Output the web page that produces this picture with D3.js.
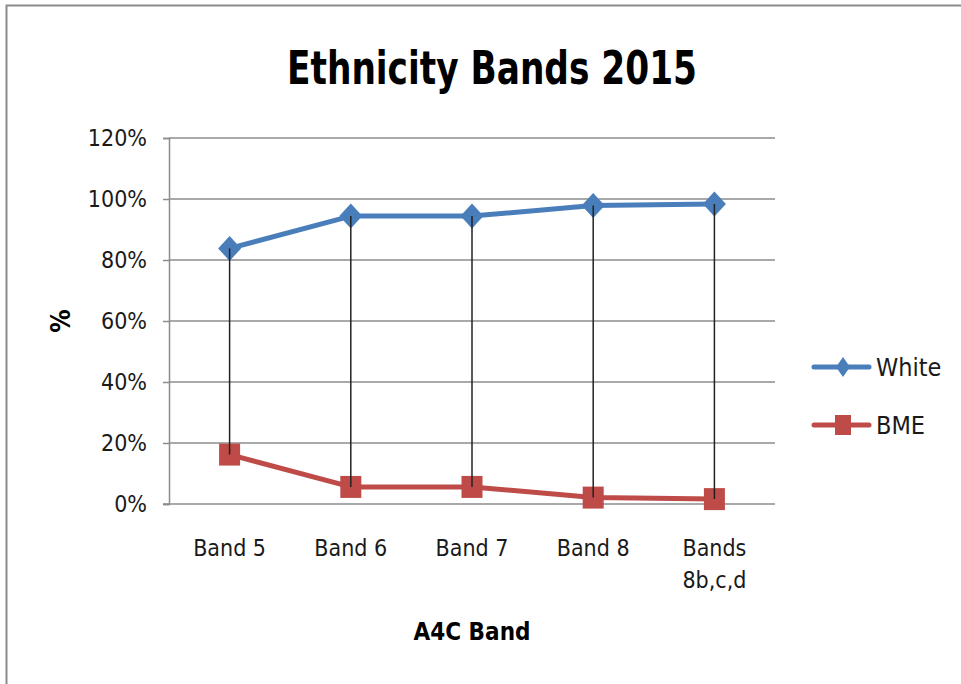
<!DOCTYPE html>
<html>
<head>
<meta charset="utf-8">
<script src="https://cdn.jsdelivr.net/npm/d3@7"></script>
<style>
  body { margin: 0; background: #fff; }
  text { font-family: "Liberation Sans Narrow", "DejaVu Sans Condensed", "Open Sans", sans-serif; }
</style>
</head>
<body>
<script>
// data
const categories = ["Band 5", "Band 6", "Band 7", "Band 8", "Bands 8b,c,d"];
const white = [83.8, 94.4, 94.4, 97.9, 98.4];
const bme = [16.2, 5.6, 5.6, 2.1, 1.6];
const yTicks = [0, 20, 40, 60, 80, 100, 120];

const width = 961, height = 684;
const plot = { left: 169, right: 775, top: 138, bottom: 504 };

const svg = d3.select("body").append("svg")
  .attr("width", width).attr("height", height);

// chart area border
svg.append("rect")
  .attr("x", 6.5).attr("y", 5.5)
  .attr("width", width + 10).attr("height", height + 10)
  .attr("fill", "none").attr("stroke", "#8c8c8c").attr("stroke-width", 2);

const x = d3.scaleBand().domain(categories).range([plot.left, plot.right]);
const y = d3.scaleLinear().domain([0, 120]).range([plot.bottom, plot.top]);
const cx = (d) => x(d) + x.bandwidth() / 2;

// marker shapes (width, height)
function diamond(w, h) {
  const p = d3.path();
  p.moveTo(0, -h / 2); p.lineTo(w / 2, 0); p.lineTo(0, h / 2); p.lineTo(-w / 2, 0); p.closePath();
  return p.toString();
}
function box(w, h) {
  const p = d3.path();
  p.rect(-w / 2, -h / 2, w, h);
  return p.toString();
}

// gridlines
svg.append("g")
  .selectAll("line")
  .data(yTicks.slice(1))
  .enter()
  .append("line")
  .attr("x1", plot.left).attr("x2", plot.right)
  .attr("y1", (d) => y(d)).attr("y2", (d) => y(d))
  .attr("stroke", "#8c8c8c").attr("stroke-width", 1.5);

// y axis
const yAxis = svg.append("g")
  .attr("transform", `translate(${plot.left},0)`)
  .call(d3.axisLeft(y).tickValues(yTicks).tickSize(6).tickPadding(16).tickFormat((d) => d + "%"));
yAxis.select(".domain").attr("stroke", "#8c8c8c").attr("stroke-width", 1.5);
yAxis.selectAll(".tick line").attr("stroke", "#8c8c8c").attr("stroke-width", 1.5);
yAxis.selectAll(".tick text")
  .attr("font-size", 23).attr("fill", "#1a1a1a")
  .style("font-family", '"Liberation Sans Narrow", "DejaVu Sans Condensed", sans-serif');

// x axis line
svg.append("line")
  .attr("x1", plot.left - 6).attr("x2", plot.right)
  .attr("y1", plot.bottom).attr("y2", plot.bottom)
  .attr("stroke", "#8c8c8c").attr("stroke-width", 1.5);

// x labels
const xl = svg.append("g").selectAll("text")
  .data(categories)
  .enter()
  .append("text")
  .attr("x", (d) => cx(d))
  .attr("y", 556)
  .attr("text-anchor", "middle")
  .attr("font-size", 23)
  .attr("fill", "#1a1a1a");
xl.each(function (d) {
  const parts = d === "Bands 8b,c,d" ? ["Bands", "8b,c,d"] : [d];
  d3.select(this).selectAll("tspan")
    .data(parts)
    .enter()
    .append("tspan")
    .attr("x", cx(d))
    .attr("dy", (p, i) => (i === 0 ? 0 : 32))
    .text((p) => p);
});

const line = d3.line().x((d, i) => cx(categories[i])).y((d) => y(d));

const series = [
  { name: "White", values: white, color: "#4a7ebb", marker: () => diamond(23, 25), legendMarker: () => diamond(14, 20) },
  { name: "BME", values: bme, color: "#be4b48", marker: () => box(21, 22), legendMarker: () => box(16, 20) }
];

series.forEach((s) => {
  svg.append("path")
    .datum(s.values)
    .attr("d", line)
    .attr("fill", "none")
    .attr("stroke", s.color)
    .attr("stroke-width", 5)
    .attr("stroke-linejoin", "round");
  svg.append("g")
    .selectAll("path")
    .data(s.values)
    .enter()
    .append("path")
    .attr("transform", (d, i) => `translate(${cx(categories[i])},${y(d)})`)
    .attr("d", s.marker())
    .attr("fill", s.color);
});

// high-low lines, drawn over the markers as in the original
svg.append("g")
  .selectAll("line")
  .data(categories)
  .enter()
  .append("line")
  .attr("x1", (d) => cx(d)).attr("x2", (d) => cx(d))
  .attr("y1", (d, i) => y(white[i])).attr("y2", (d, i) => y(bme[i]))
  .attr("stroke", "#222").attr("stroke-width", 1.5);

// legend
const legend = svg.append("g").selectAll("g")
  .data(series)
  .enter()
  .append("g")
  .attr("transform", (d, i) => `translate(814,${367 + i * 58})`);
legend.append("line")
  .attr("x1", 0).attr("x2", 55)
  .attr("stroke", (d) => d.color).attr("stroke-width", 5)
  .attr("stroke-linecap", "round");
legend.append("path")
  .attr("transform", "translate(29,0)")
  .attr("d", (d) => d.legendMarker())
  .attr("fill", (d) => d.color);
legend.append("text")
  .attr("x", 62).attr("y", 9)
  .attr("font-size", 25)
  .attr("fill", "#1a1a1a")
  .text((d) => d.name);

// title
svg.append("text")
  .attr("x", 287).attr("y", 84)
  .attr("font-size", 47)
  .attr("font-weight", "bold")
  .attr("textLength", 410)
  .attr("lengthAdjust", "spacingAndGlyphs")
  .text("Ethnicity Bands 2015");

// axis titles
svg.append("text")
  .attr("x", 472).attr("y", 640)
  .attr("text-anchor", "middle")
  .attr("font-size", 24)
  .attr("font-weight", "bold")
  .text("A4C Band");

svg.append("text")
  .attr("transform", "translate(70,321) rotate(-90)")
  .attr("text-anchor", "middle")
  .attr("font-size", 26)
  .attr("font-weight", "bold")
  .text("%");
</script>
</body>
</html>
